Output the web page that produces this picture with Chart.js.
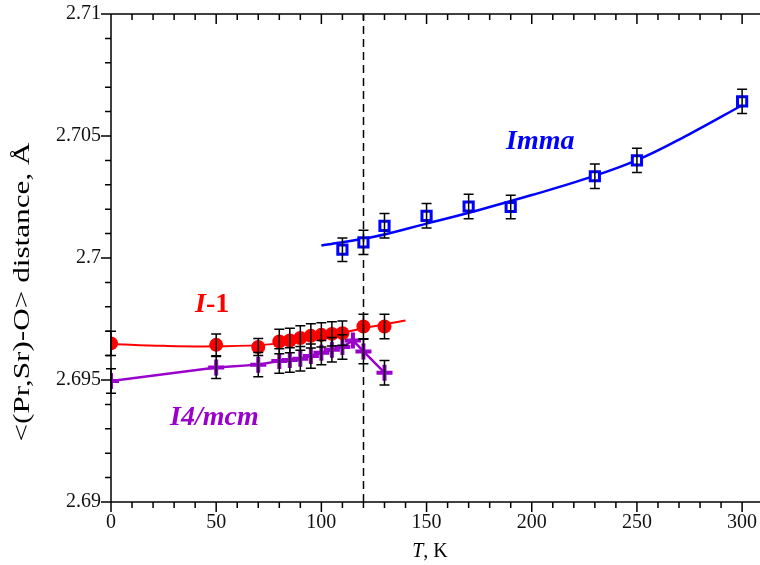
<!DOCTYPE html>
<html>
<head>
<meta charset="utf-8">
<script src="https://cdn.jsdelivr.net/npm/chart.js@4"></script>
<style>
html, body { margin: 0; padding: 0; background: #fff; }
</style>
</head>
<body>
<canvas id="grafico" width="760" height="565"></canvas>
<script>
// fase I-1 (circulos rojos)
const tempI1 = [0, 50, 70, 80, 85, 90, 95, 100, 105, 110, 120, 130];
const distI1 = [2.6965, 2.69644, 2.69635, 2.69658, 2.69662, 2.69672, 2.69681, 2.69685, 2.69689, 2.69692, 2.69719, 2.69719];
const errI1 = [0.0005, 0.00045, 0.00035, 0.0005, 0.0005, 0.0005, 0.0005, 0.0005, 0.0005, 0.0005, 0.0005, 0.0005];

// fase I4/mcm (cruces moradas)
const tempI4 = [0, 50, 70, 80, 85, 90, 95, 100, 105, 110, 115, 120, 130];
const distI4 = [2.69496, 2.69551, 2.69563, 2.69578, 2.69582, 2.69587, 2.69598, 2.69612, 2.69624, 2.69635, 2.69662, 2.69617, 2.6953];
const errI4 = [0.0005, 0.00045, 0.0005, 0.0005, 0.0005, 0.0005, 0.0005, 0.0005, 0.0005, 0.0005, 0, 0.0005, 0.0005];

// fase Imma (cuadrados azules)
const tempImma = [110, 120, 130, 150, 170, 190, 230, 250, 300];
const distImma = [2.70034, 2.70064, 2.70132, 2.70173, 2.70211, 2.70209, 2.70335, 2.704, 2.70642];
const errImma = [0.00048, 0.0005, 0.0005, 0.0005, 0.0005, 0.00048, 0.0005, 0.0005, 0.0005];

// curvas de ajuste
const ajusteI1T = [0, 25, 50, 75, 100, 120, 140];
const ajusteI1 = [2.69648, 2.6964, 2.69638, 2.69646, 2.69676, 2.69712, 2.69744];
const ajusteImmaT = [100, 125, 150, 175, 200, 225, 250, 275, 300];
const ajusteImma = [2.70051, 2.70087, 2.70141, 2.70197, 2.70258, 2.70323, 2.70401, 2.70508, 2.70626];

// ejes
const xTicks = [0, 50, 100, 150, 200, 250, 300];
const yTicks = [2.69, 2.695, 2.7, 2.705, 2.71];
const yTickLabels = ['2.69', '2.695', '2.7', '2.705', '2.71'];
const tTransicion = 120;

const rojo = '#ff0000';
const azul = '#0000ff';
const morado = '#9900cc';
const fuente = '"Liberation Serif", "Times New Roman", serif';

function puntos(xs, ys) {
    return xs.map((x, i) => ({x: x, y: ys[i]}));
}

const marcos = {
    id: 'marcos',
    afterDatasetsDraw(chart) {
        const ctx = chart.ctx;
        const a = chart.chartArea;
        const x = chart.scales.x;
        const y = chart.scales.y;
        ctx.save();

        // linea de transicion
        ctx.strokeStyle = '#000';
        ctx.lineWidth = 1.5;
        ctx.setLineDash([8, 5]);
        const xt = Math.round(x.getPixelForValue(tTransicion)) + 0.5;
        ctx.beginPath();
        ctx.moveTo(xt, a.bottom);
        ctx.lineTo(xt, a.top);
        ctx.stroke();
        ctx.setLineDash([]);

        // barras de error
        ctx.lineWidth = 1.5;
        const barras = (ts, ds, es) => {
            ts.forEach((t, i) => {
                if (!es[i]) return;
                const px = x.getPixelForValue(t);
                const y1 = y.getPixelForValue(ds[i] + es[i]);
                const y2 = y.getPixelForValue(ds[i] - es[i]);
                ctx.beginPath();
                ctx.moveTo(px, y1); ctx.lineTo(px, y2);
                ctx.moveTo(px - 5, y1); ctx.lineTo(px + 5, y1);
                ctx.moveTo(px - 5, y2); ctx.lineTo(px + 5, y2);
                ctx.stroke();
            });
        };
        barras(tempI1, distI1, errI1);
        barras(tempI4, distI4, errI4);
        barras(tempImma, distImma, errImma);

        // ejes y marcas
        ctx.lineWidth = 1.5;
        ctx.beginPath();
        ctx.moveTo(a.left, a.top); ctx.lineTo(chart.width, a.top);
        ctx.moveTo(a.left, a.bottom); ctx.lineTo(chart.width, a.bottom);
        ctx.moveTo(a.left, a.top); ctx.lineTo(a.left, a.bottom);
        for (let t = 0; t <= 300; t += 10) {
            const px = x.getPixelForValue(t);
            const largo = t % 50 === 0 ? 10 : 6;
            ctx.moveTo(px, a.bottom); ctx.lineTo(px, a.bottom + largo);
            ctx.moveTo(px, a.top); ctx.lineTo(px, a.top + largo);
        }
        for (let k = 0; k <= 20; k++) {
            const py = y.getPixelForValue(y.min + k * 0.001);
            const largo = k % 5 === 0 ? 10 : 6;
            ctx.moveTo(a.left, py); ctx.lineTo(a.left - largo, py);
        }
        ctx.stroke();

        // etiquetas de fase
        ctx.font = 'italic bold 28px ' + fuente;
        ctx.textBaseline = 'alphabetic';
        ctx.textAlign = 'left';
        ctx.fillStyle = azul;
        ctx.fillText('Imma', 506, 149);
        ctx.fillStyle = morado;
        ctx.fillText('I4/mcm', 170, 425);
        ctx.fillStyle = rojo;
        ctx.fillText('I', 195, 312);
        const wI = ctx.measureText('I').width;
        ctx.font = 'bold 28px ' + fuente;
        ctx.fillText('-1', 195 + wI, 312);

        // titulo eje x
        ctx.fillStyle = '#000';
        ctx.font = 'italic 20px ' + fuente;
        const wT = ctx.measureText('T').width;
        ctx.font = '20px ' + fuente;
        const wK = ctx.measureText(', K').width;
        const x0 = 430 - (wT + wK) / 2;
        ctx.font = 'italic 20px ' + fuente;
        ctx.fillText('T', x0, 557);
        ctx.font = '20px ' + fuente;
        ctx.fillText(', K', x0 + wT, 557);

        // titulo eje y
        ctx.translate(29, 292);
        ctx.rotate(-Math.PI / 2);
        ctx.scale(1.3, 1);
        ctx.font = '24px ' + fuente;
        ctx.textAlign = 'center';
        ctx.fillText('<(Pr,Sr)-O> distance, Å', 0, 0);
        ctx.restore();
    }
};

const config = {
    type: 'line',
    data: {
        datasets: [
            {
                label: 'ajuste I-1',
                data: puntos(ajusteI1T, ajusteI1),
                borderColor: rojo,
                borderWidth: 2,
                pointRadius: 0,
                tension: 0.4,
                order: 5
            },
            {
                label: 'ajuste Imma',
                data: puntos(ajusteImmaT, ajusteImma),
                borderColor: azul,
                borderWidth: 2.5,
                pointRadius: 0,
                tension: 0.4,
                order: 5
            },
            {
                label: 'I4/mcm',
                data: puntos(tempI4, distI4),
                borderColor: morado,
                borderWidth: 2.5,
                pointStyle: 'cross',
                pointRadius: 8,
                pointBorderWidth: 4,
                pointBorderColor: morado,
                tension: 0,
                order: 3
            },
            {
                label: 'I-1',
                data: puntos(tempI1, distI1),
                showLine: false,
                pointStyle: 'circle',
                pointRadius: 7,
                pointBorderWidth: 0,
                pointBackgroundColor: rojo,
                pointBorderColor: rojo,
                order: 2
            },
            {
                label: 'Imma',
                data: puntos(tempImma, distImma),
                showLine: false,
                pointStyle: 'rect',
                pointRadius: 6.5,
                pointBorderWidth: 3,
                pointBackgroundColor: '#fff',
                pointBorderColor: azul,
                order: 1
            }
        ]
    },
    options: {
        responsive: false,
        animation: false,
        devicePixelRatio: 1,
        layout: {autoPadding: false, padding: {top: 14, right: 0, left: 0, bottom: 0}},
        plugins: {legend: {display: false}, tooltip: {enabled: false}},
        scales: {
            x: {
                type: 'linear',
                min: 0,
                max: 308.5,
                grid: {display: false, drawTicks: false},
                border: {display: false},
                afterBuildTicks: s => { s.ticks = xTicks.map(v => ({value: v})); },
                afterFit: s => { s.height = 63; s.paddingLeft = 0; s.paddingRight = 0; },
                ticks: {
                    color: '#111',
                    padding: 9,
                    maxRotation: 0,
                    font: {family: fuente, size: 20}
                }
            },
            y: {
                type: 'linear',
                min: 2.69,
                max: 2.71,
                grid: {display: false, drawTicks: false},
                border: {display: false},
                afterBuildTicks: s => { s.ticks = yTicks.map(v => ({value: v})); },
                afterFit: s => { s.width = 111; s.paddingTop = 0; s.paddingBottom = 0; },
                ticks: {
                    color: '#111',
                    padding: 10,
                    font: {family: fuente, size: 20},
                    callback: (v, i) => yTickLabels[i]
                }
            }
        }
    },
    plugins: [marcos]
};

let miGrafico = new Chart(document.getElementById('grafico'), config);
</script>
</body>
</html>
